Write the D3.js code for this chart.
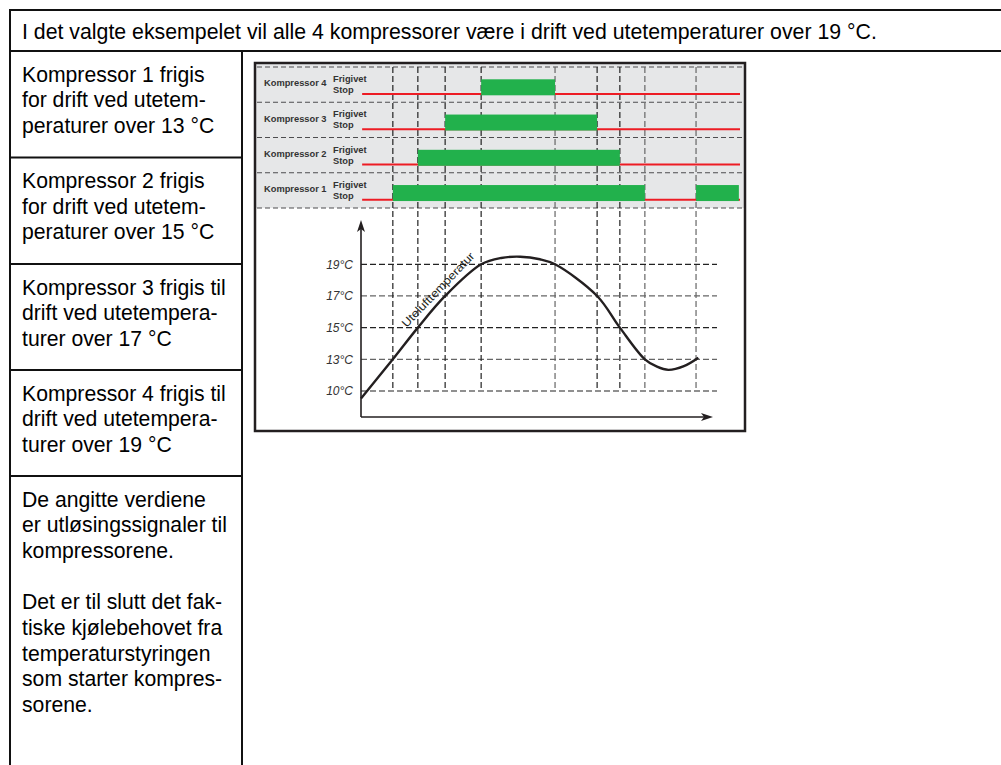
<!DOCTYPE html>
<html>
<head>
<meta charset="utf-8">
<script src="https://cdn.jsdelivr.net/npm/d3@7"></script>
<style>
  body { margin: 0; background: #fff; }
  svg { display: block; font-family: "Liberation Sans", Arial, sans-serif; }
</style>
</head>
<body>
<svg id="chart" width="1001" height="765"></svg>
<script>
// Texts
const headerText = "I det valgte eksempelet vil alle 4 kompressorer være i drift ved utetemperaturer over 19 °C.";
const cellLines = [
  ["Kompressor 1 frigis", "for drift ved utetem-", "peraturer over 13 °C"],
  ["Kompressor 2 frigis", "for drift ved utetem-", "peraturer over 15 °C"],
  ["Kompressor 3 frigis til", "drift ved utetempera-", "turer over 17 °C"],
  ["Kompressor 4 frigis til", "drift ved utetempera-", "turer over 19 °C"],
  ["De angitte verdiene", "er utløsingssignaler til", "kompressorene.", "",
   "Det er til slutt det fak-", "tiske kjølebehovet fra", "temperaturstyringen",
   "som starter kompres-", "sorene."]
];

// Compressor release signals (time in arbitrary units 0..100)
const compressors = ["Kompressor 4", "Kompressor 3", "Kompressor 2", "Kompressor 1"];
const releaseStart = [31.7, 22.2, 15.0, 8.4];
const releaseEnd = [51.2, 62.3, 68.3, 74.9];
const k1Restart = [88.4, 99.7];
const signalSpan = [0.3, 100];

// Outdoor temperature curve
const timeVals = [0, 8.4, 15.0, 22.2, 31.7, 37, 42, 47.2, 51.2, 62.3, 68.3, 74.9, 78.1, 81.1, 85.2, 89];
const tempVals = [9.3, 13, 15, 17, 19, 19.4, 19.48, 19.32, 19, 17, 15, 13, 12.3, 12.0, 12.35, 13.1];
const tempTicks = [10, 13, 15, 17, 19];
const curveLabel = "Utelufttemperatur";

const svg = d3.select("#chart");

// ---- table on the left ----
const rowTops = [51, 157.5, 264, 370, 476];
const lineH = 25.7;

svg.append("text")
  .attr("x", 22).attr("y", 39)
  .attr("font-size", 21.3).attr("fill", "#000")
  .text(headerText);

const cells = svg.selectAll(".cell").data(cellLines).enter()
  .append("text").attr("class", "cell")
  .attr("font-size", 21.2).attr("fill", "#000");
cells.selectAll("tspan")
  .data((d, i) => d.map((s, j) => ({ s, y: rowTops[i] + 30.5 + j * lineH })))
  .enter().append("tspan")
  .attr("x", 22).attr("y", (d) => d.y)
  .text((d) => d.s);

const tableLines = svg.append("g").attr("stroke", "#111").attr("stroke-width", 2);
tableLines.append("line").attr("x1", 10).attr("x2", 1001).attr("y1", 10).attr("y2", 10);
tableLines.append("line").attr("x1", 10).attr("x2", 1001).attr("y1", 51).attr("y2", 51);
tableLines.append("line").attr("x1", 10).attr("x2", 10).attr("y1", 9).attr("y2", 765);
tableLines.append("line").attr("x1", 242).attr("x2", 242).attr("y1", 51).attr("y2", 765);
tableLines.selectAll(".sep").data(rowTops.slice(1)).enter()
  .append("line").attr("x1", 10).attr("x2", 242)
  .attr("y1", (d) => d).attr("y2", (d) => d);

// ---- diagram ----
const box = { x: 255, y: 63, w: 490, h: 368 };
const x = d3.scaleLinear().domain([0, 100]).range([361, 740]);
const y = d3.scaleLinear().domain([10, 13, 19]).range([391, 359.3, 264.3]);
const row = d3.scaleBand().domain(compressors).range([67, 208]);
const gridEnd = 717, arrowEnd = 713, axisY = 417, axisTop = 220;

const g = svg.append("g");
g.append("rect").attr("x", box.x).attr("y", box.y).attr("width", box.w).attr("height", box.h)
  .attr("fill", "#fff");
g.append("rect").attr("x", box.x).attr("y", box.y).attr("width", box.w).attr("height", 208 - box.y)
  .attr("fill", "#e6e7e8");

// horizontal separators in the signal area
g.selectAll(".rowsep").data([67, ...compressors.map((c) => row(c) + row.bandwidth())]).enter()
  .append("line")
  .attr("x1", box.x + 2).attr("x2", box.x + box.w - 2)
  .attr("y1", (d) => d).attr("y2", (d) => d)
  .attr("stroke", "#4d4d4f").attr("stroke-width", 1.2).attr("stroke-dasharray", "5,3");

// horizontal grid for temperatures
g.selectAll(".hgrid").data(tempTicks).enter()
  .append("line")
  .attr("x1", x(0)).attr("x2", gridEnd)
  .attr("y1", (d) => y(d)).attr("y2", (d) => y(d))
  .attr("stroke", (d, i) => (i % 2 === 0 ? "#222" : "#666"))
  .attr("stroke-width", 1.2).attr("stroke-dasharray", "6,3");

// vertical event lines
const events = [...releaseStart, ...releaseEnd, k1Restart[0]];
g.selectAll(".vgrid").data(events).enter()
  .append("line")
  .attr("x1", (d) => x(d)).attr("x2", (d) => x(d))
  .attr("y1", 67).attr("y2", y(10))
  .attr("stroke", (d) => (d > 74 || (d > 50 && d < 52) ? "#666" : "#222"))
  .attr("stroke-width", 1.2).attr("stroke-dasharray", "6,3");

// red "Stop" lines
g.selectAll(".stop").data(compressors).enter()
  .append("line")
  .attr("x1", x(signalSpan[0])).attr("x2", x(signalSpan[1]))
  .attr("y1", (d) => row(d) + 27).attr("y2", (d) => row(d) + 27)
  .attr("stroke", "#ed1c24").attr("stroke-width", 2.2);

// green "Frigivet" bars
const periods = compressors.map((c, i) => ({ c, s: releaseStart[i], e: releaseEnd[i] }));
periods.push({ c: "Kompressor 1", s: k1Restart[0], e: k1Restart[1] });
g.selectAll(".bar").data(periods).enter()
  .append("rect")
  .attr("x", (d) => x(d.s)).attr("width", (d) => x(d.e) - x(d.s))
  .attr("y", (d) => row(d.c) + 12.3).attr("height", 16)
  .attr("fill", "#22b14c");

// row labels
const lab = g.selectAll(".lab").data(compressors).enter().append("g")
  .attr("font-weight", "bold").attr("font-size", 9.3).attr("fill", "#333");
lab.append("text").attr("x", 264).attr("y", (d) => row(d) + 19.4).text((d) => d);
lab.append("text").attr("x", 333).attr("y", (d) => row(d) + 15).text("Frigivet");
lab.append("text").attr("x", 333).attr("y", (d) => row(d) + 26).text("Stop");

// axes
g.append("line").attr("x1", x(0)).attr("x2", x(0)).attr("y1", axisY).attr("y2", axisTop + 8)
  .attr("stroke", "#231f20").attr("stroke-width", 1.6);
g.append("path")
  .attr("d", `M${x(0)},${axisTop} L${x(0) - 4},${axisTop + 12} L${x(0)},${axisTop + 9} L${x(0) + 4},${axisTop + 12} Z`)
  .attr("fill", "#231f20");
g.append("line").attr("x1", x(0)).attr("x2", arrowEnd - 8).attr("y1", axisY).attr("y2", axisY)
  .attr("stroke", "#231f20").attr("stroke-width", 1.6);
g.append("path")
  .attr("d", `M${arrowEnd},${axisY} L${arrowEnd - 12},${axisY - 4} L${arrowEnd - 9},${axisY} L${arrowEnd - 12},${axisY + 4} Z`)
  .attr("fill", "#231f20");

g.selectAll(".ylab").data(tempTicks).enter()
  .append("text")
  .attr("x", 353).attr("y", (d) => y(d)).attr("dy", "0.36em")
  .attr("text-anchor", "end").attr("font-style", "italic")
  .attr("font-size", 12).attr("fill", "#333")
  .text((d) => d + "°C");

// temperature curve
const line = d3.line()
  .x((d, i) => x(timeVals[i]))
  .y((d, i) => y(tempVals[i]))
  .curve(d3.curveCatmullRom.alpha(0.5));
g.append("path").datum(timeVals)
  .attr("d", line)
  .attr("fill", "none").attr("stroke", "#231f20").attr("stroke-width", 2.4);

g.append("text")
  .attr("transform", `translate(${x(20.3)},${y(17.4)}) rotate(-46)`)
  .attr("text-anchor", "middle").attr("dy", "0.35em")
  .attr("font-size", 11.5).attr("fill", "#231f20")
  .attr("textLength", 99).attr("lengthAdjust", "spacingAndGlyphs")
  .text(curveLabel);

// frame
g.append("rect").attr("x", box.x).attr("y", box.y).attr("width", box.w).attr("height", box.h)
  .attr("fill", "none").attr("stroke", "#231f20").attr("stroke-width", 2.5);
</script>
</body>
</html>
